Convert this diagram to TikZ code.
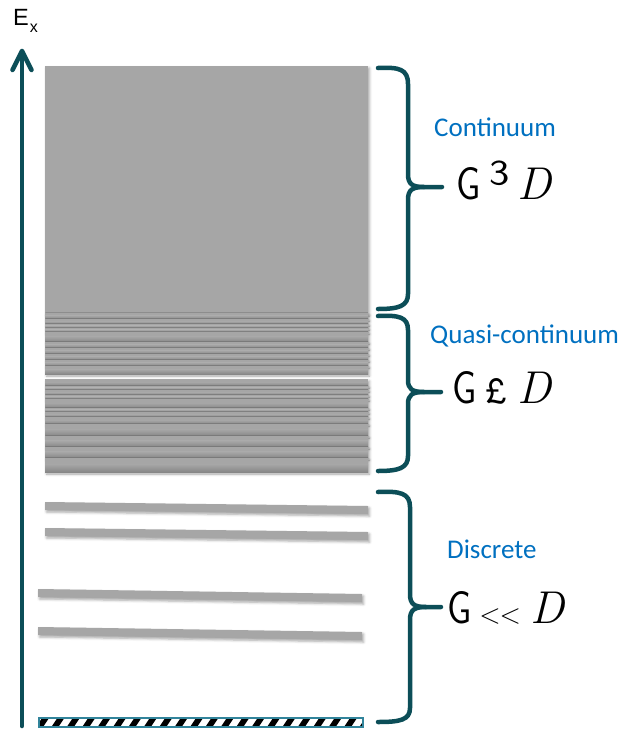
\documentclass[tikz,border=0pt]{standalone}
\usepackage{fontspec}
\usepackage{graphicx}
\newfontfamily\calibfont{Carlito}
\newfontfamily\arialfont{Liberation Sans}
\usetikzlibrary{shadows.blur}

\definecolor{axisteal}{RGB}{12,78,88}
\definecolor{levelgray}{RGB}{166,166,166}
\definecolor{banddark}{RGB}{135,135,135}
\definecolor{labelblue}{RGB}{0,112,192}
\definecolor{hatchteal}{RGB}{49,132,155}

% pieces of the relation labels
\newcommand\gletter{\resizebox{!}{32pt}{\scalebox{0.8}[1]{\sffamily G}}}
\newcommand\dletter{{\rmfamily\itshape\fontsize{46}{50}\selectfont D}}

\begin{document}
\begin{tikzpicture}[x=1pt,y=-1pt,
  axisline/.style={line width=4.5pt, draw=axisteal, line cap=round, line join=round},
  brace/.style={line width=4.5pt, draw=axisteal, line cap=round, line join=round},
  softshadow/.style={blur shadow={shadow xshift=1.5pt, shadow yshift=-2pt,
      shadow blur radius=2.5pt, shadow opacity=35}},
  level/.style={fill=levelgray, softshadow},
  region/.style={text=labelblue, inner sep=0pt, anchor=base west,
      font=\calibfont\fontsize{27}{30}\selectfont},
  relation/.style={inner sep=0pt, anchor=base west},
]
\useasboundingbox (0,0) rectangle (629,732);

% energy axis
\coordinate (axbase) at (22,726);
\coordinate (axtip) at (22,51);
\draw[axisline] (axbase) -- (axtip);
\draw[axisline] (12.5,70) -- (axtip) -- (31.5,70);
\node[inner sep=0pt, anchor=base west, font=\arialfont\fontsize{23.5}{26}\selectfont]
  (ex) at (13,25) {E\kern1pt\raisebox{-7pt}{\fontsize{16}{16}\selectfont x}};

% continuum block
\fill[level] (45,66) rectangle (368,314);

% quasi-continuum: stacked bands, each darkening towards its lower edge
\foreach \t/\b in {313/319, 319/324, 324/328, 328/332, 332/342, 342/348,
                   348/354, 354/360, 360/366, 366/374,
                   379/386, 386/390, 390/395, 395/399, 399/408, 408/412,
                   412/417, 417/424, 424/436, 436/447, 447/458, 458/472}{
  \fill[levelgray, softshadow] (45,\t) rectangle (368,\b);
  \shade[top color=levelgray, bottom color=banddark]
    (45,{\t+0.45*(\b-\t)}) rectangle (368,\b);
}

% discrete levels
\fill[level] (45,502) -- (368,506) -- (368,514) -- (45,510) -- cycle;
\fill[level] (45,528) -- (368,532) -- (368,540) -- (45,536) -- cycle;
\fill[level] (38,589) -- (362,594) -- (362,602) -- (38,597) -- cycle;
\fill[level] (38,627) -- (362,632) -- (362,640) -- (38,635) -- cycle;

% ground state: hatched bar
\begin{scope}
  \clip (39,718) rectangle (363,727);
  \fill[white] (39,718) rectangle (363,727);
  \foreach \i in {0,...,21}
    \fill[black] ({36+\i*15.4},727) -- ++(7,0) -- ++(6,-9) -- ++(-7,0) -- cycle;
\end{scope}
\draw[hatchteal, line width=1.6pt] (39,718) rectangle (363,727);

% braces
\draw[brace] (378,68) .. controls (399,67) and (408,69) .. (408,84)
  -- (408,174) .. controls (408,184) and (412,187) .. (424,187) -- (442,187);
\draw[brace] (424,187) .. controls (412,187) and (408,190) .. (408,200)
  -- (408,294) .. controls (408,306) and (399,309) .. (378,309);

\draw[brace] (378,316) .. controls (399,315) and (408,317) .. (408,330)
  -- (408,380) .. controls (408,389) and (412,392) .. (424,392) -- (441,392);
\draw[brace] (424,392) .. controls (412,392) and (408,395) .. (408,404)
  -- (408,456) .. controls (408,468) and (399,471) .. (378,471);

\draw[brace] (378,492) .. controls (400,491) and (410,493) .. (410,507)
  -- (410,594) .. controls (410,604) and (414,607) .. (426,607) -- (441,607);
\draw[brace] (426,607) .. controls (414,607) and (410,610) .. (410,620)
  -- (410,708) .. controls (410,720) and (400,722) .. (378,722);

% region names
\node[region] (cont) at (434,136) {Continuum};
\node[region] (quasi) at (430,343) {Quasi-continuum};
\node[region] (disc) at (447,558) {Discrete};

% relations
\node[relation] (rel1) at (456,199)
  {\gletter\kern9pt\raisebox{-4pt}{\sffamily\fontsize{60}{60}\selectfont ³}\kern8pt\dletter};
\node[relation] (rel2) at (452,403)
  {\gletter\kern8pt\resizebox{!}{25pt}{\sffamily £}\kern9pt\dletter};
\node[relation] (rel3) at (447,623)
  {\gletter\kern8pt{\rmfamily\fontsize{28}{30}\selectfont <\kern-1pt<}\kern9pt\dletter};
\end{tikzpicture}
\end{document}
